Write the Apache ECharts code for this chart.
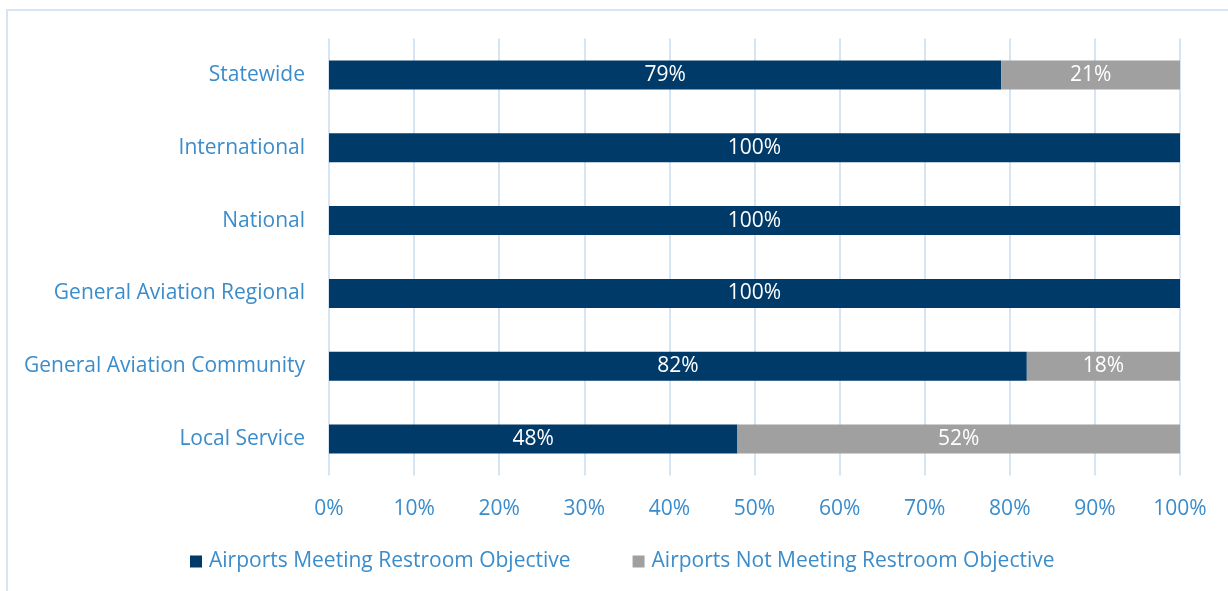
<!DOCTYPE html>
<html><head><meta charset="utf-8">
<script src="https://cdn.jsdelivr.net/npm/echarts@6/dist/echarts.min.js"></script>
<style>
html,body{margin:0;padding:0;background:#fff;}
#frame{position:absolute;left:6px;top:9px;width:1230px;height:600px;border-left:2px solid #D5E5F3;border-top:2px solid #D5E5F3;box-sizing:border-box;}
#chart{position:absolute;left:0;top:0;width:1228px;height:591px;}
</style></head>
<body>
<div id="frame"></div>
<div id="chart"></div>
<script>
const categories = ["Statewide","International","National","General Aviation Regional","General Aviation Community","Local Service"];
const meeting = [79,100,100,100,82,48];
const notMeeting = [21,0,0,0,18,52];
const seriesNames = ["Airports Meeting Restroom Objective","Airports Not Meeting Restroom Objective"];
const xTicks = [0,10,20,30,40,50,60,70,80,90,100];

const FONT = "Open Sans";
const FS = 21;
const BLUE = "#3A8CCB";
const chart = echarts.init(document.getElementById('chart'), null, {renderer:'canvas'});
chart.setOption({
  animation:false,
  textStyle:{fontFamily:FONT},
  grid:{left:329,right:48,top:38.5,bottom:115.5,containLabel:false},
  legend:{
    data:seriesNames, top:546, left:185, itemWidth:12, itemHeight:12, itemGap:62,
    icon:'rect', textStyle:{color:BLUE,fontSize:FS,fontFamily:FONT,padding:[0,0,0,2]}
  },
  xAxis:{
    type:'value', min:0, max:100, interval:10,
    axisLine:{show:false}, axisTick:{show:false},
    splitLine:{show:true,lineStyle:{color:'#D5E5F3',width:2}},
    axisLabel:{color:BLUE,fontSize:FS,fontFamily:FONT,margin:23,formatter:v=>v+'%'}
  },
  yAxis:{
    type:'category', data:categories, inverse:true,
    axisLine:{show:false}, axisTick:{show:false},
    axisLabel:{color:BLUE,fontSize:FS,fontFamily:FONT,margin:24,padding:[4,0,0,0]}
  },
  series:[
    {name:seriesNames[0],type:'bar',stack:'a',data:meeting,barWidth:29,
     itemStyle:{color:'#003A68'},
     label:{show:true,position:'inside',color:'#fff',fontSize:FS,fontFamily:FONT,padding:[4,0,0,0],formatter:p=>p.value>0?p.value+'%':''}},
    {name:seriesNames[1],type:'bar',stack:'a',data:notMeeting,barWidth:29,
     itemStyle:{color:'#A0A0A0'},
     label:{show:true,position:'inside',color:'#fff',fontSize:FS,fontFamily:FONT,padding:[4,0,0,0],formatter:p=>p.value>0?p.value+'%':''}}
  ]
});
</script>
</body></html>
